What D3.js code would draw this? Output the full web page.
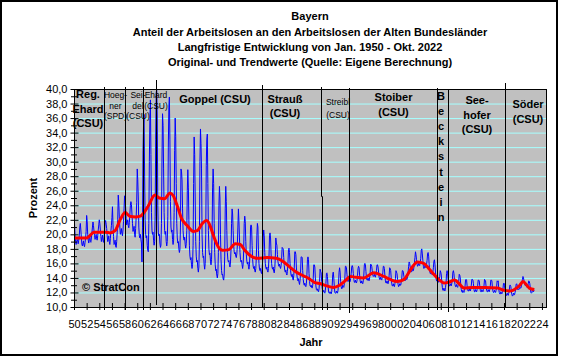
<!DOCTYPE html>
<html><head><meta charset="utf-8">
<script src="https://cdn.jsdelivr.net/npm/d3@7"></script>
<style>
body{margin:0;background:#fff}
svg{display:block}
text{font-family:"Liberation Sans",Arial,sans-serif;fill:#000}
</style>
</head><body>
<svg id="chart" width="562" height="359"></svg>
<script>
// ---------------- DATA ----------------
const titleLines = [
  "Bayern",
  "Anteil der Arbeitslosen an den Arbeitslosen der Alten Bundesländer",
  "Langfristige Entwicklung von Jan. 1950 - Okt. 2022",
  "Original- und Trendwerte (Quelle: Eigene Berechnung)"
];
const yAxisTitle = "Prozent";
const xAxisTitle = "Jahr";
const startYear = 1950;
const yTickValues = [10,12,14,16,18,20,22,24,26,28,30,32,34,36,38,40];
const xTickYears = [1950,1952,1954,1956,1958,1960,1962,1964,1966,1968,1970,1972,1974,1976,1978,1980,1982,1984,1986,1988,1990,1992,1994,1996,1998,2000,2002,2004,2006,2008,2010,2012,2014,2016,2018,2020,2022,2024];
const xTickLabels = ["50","52","54","56","58","60","62","64","66","68","70","72","74","76","78","80","82","84","86","88","90","92","94","96","98","00","02","04","06","08","10","12","14","16","18","20","22","24"];

// Monthly original values (Jan 1950 - Oct 2022), one row per year
const originalValues = [
 23.0,21.5,19.8,19.0,18.6,18.9,19.3,19.0,18.7,19.2,19.8,21.0, // 1950
 21.5,20.6,19.5,18.6,18.4,18.8,19.1,18.5,18.3,18.9,19.5,20.4, // 1951
 22.6,21.8,20.0,19.2,18.8,19.4,19.8,19.0,18.9,19.5,20.2,21.0, // 1952
 21.7,21.2,20.4,19.8,19.3,19.6,20.0,19.4,19.2,19.8,20.6,21.3, // 1953
 22.0,21.5,20.6,19.7,19.0,19.5,19.9,19.2,18.9,19.6,20.5,21.6, // 1954
 21.9,21.4,20.8,19.8,19.0,19.3,19.8,19.0,18.6,19.4,20.4,21.2, // 1955
 22.3,23.8,21.4,19.7,18.6,18.7,19.2,18.4,18.2,19.0,20.3,22.0, // 1956
 25.4,24.3,22.4,21.0,20.0,20.3,20.8,20.1,19.8,20.6,21.8,23.5, // 1957
 25.3,25.0,23.6,22.2,21.3,21.6,22.0,21.2,20.9,21.6,22.7,24.0, // 1958
 24.5,24.1,22.8,21.5,20.4,20.7,21.1,20.0,19.6,20.8,22.4,24.4, // 1959
 29.0,27.5,25.0,21.0,19.8,19.5,20.0,19.3,18.8,16.2,21.0,31.5, // 1960
 35.3,36.5,28.0,22.0,20.0,19.5,19.8,18.5,17.8,17.6,21.5,30.0, // 1961
 36.0,38.5,31.0,23.0,20.5,20.0,20.3,19.2,18.5,19.0,22.5,33.0, // 1962
 39.5,40.0,36.0,24.0,20.2,19.8,20.0,18.8,18.2,18.5,21.5,30.5, // 1963
 36.6,35.0,29.0,23.0,20.5,20.0,20.4,19.0,18.4,19.0,22.5,32.0, // 1964
 37.5,38.9,33.0,24.5,21.0,20.3,20.6,19.3,18.6,19.2,23.0,31.5, // 1965
 36.0,33.5,27.0,21.5,19.5,18.8,19.0,18.0,17.5,17.9,21.0,29.0, // 1966
 28.7,27.5,23.5,20.5,19.4,19.2,19.6,18.6,18.1,18.7,20.5,26.0, // 1967
 28.9,26.5,22.0,18.5,17.0,16.5,16.8,15.8,15.3,15.8,18.5,27.0, // 1968
 33.4,31.0,25.0,19.0,17.0,16.2,16.4,15.3,14.8,15.5,19.0,30.0, // 1969
 34.5,32.5,29.0,20.0,17.5,16.8,17.0,15.8,15.2,16.0,20.0,29.5, // 1970
 33.0,33.8,27.0,20.5,18.0,17.2,17.4,16.3,15.8,16.5,20.0,26.5, // 1971
 29.0,27.0,21.5,17.5,15.8,15.0,15.2,14.4,14.0,14.6,17.5,24.0, // 1972
 26.6,25.0,20.0,16.5,15.0,14.4,14.5,13.9,13.7,14.4,17.0,23.5, // 1973
 26.6,24.5,20.5,17.5,16.5,16.2,16.4,15.8,15.5,16.2,18.0,21.5, // 1974
 23.5,22.8,20.5,18.5,17.6,17.3,17.5,17.0,16.8,17.3,18.5,21.0, // 1975
 23.5,21.8,19.5,17.5,16.5,16.2,16.4,15.8,15.3,15.9,17.8,21.5, // 1976
 22.5,21.8,19.0,17.2,16.3,15.9,16.2,15.6,15.2,15.8,17.5,21.0, // 1977
 21.3,21.0,18.5,16.5,15.6,15.3,15.6,15.0,14.8,15.3,16.8,19.8, // 1978
 21.5,21.0,17.8,16.0,15.2,15.0,15.3,14.8,14.6,15.1,16.5,19.5, // 1979
 20.6,19.8,17.5,16.0,15.4,15.2,15.5,15.0,14.8,15.3,16.8,19.8, // 1980
 20.2,19.5,17.3,16.0,15.4,15.2,15.5,14.9,14.7,15.3,16.8,19.5, // 1981
 18.8,18.5,17.2,16.3,15.8,15.6,15.9,15.5,15.3,15.7,16.6,18.2, // 1982
 18.1,18.0,16.8,15.7,15.0,14.8,15.1,14.6,14.4,14.9,16.0,17.9, // 1983
 18.1,17.5,16.0,15.0,14.4,14.2,14.5,14.0,13.7,14.3,15.5,17.6, // 1984
 17.6,17.2,15.5,14.4,13.8,13.6,13.9,13.4,13.1,13.7,14.8,16.9, // 1985
 16.9,16.8,15.0,13.8,13.2,13.0,13.3,12.9,12.8,13.2,14.5,16.5, // 1986
 16.9,16.5,14.6,13.5,12.9,12.8,13.0,12.7,12.6,13.0,14.0,15.8, // 1987
 15.8,15.5,14.0,12.9,12.4,12.3,12.5,12.2,12.1,12.5,13.5,15.2, // 1988
 14.9,14.7,13.5,12.6,12.2,12.1,12.3,12.0,11.9,12.3,13.2,14.6, // 1989
 14.7,14.2,13.0,12.2,11.9,11.9,12.1,11.9,11.8,12.1,13.0,14.5, // 1990
 14.8,14.0,12.8,12.0,11.9,11.9,12.2,12.0,11.9,12.3,13.3,14.8, // 1991
 15.4,14.8,13.5,12.8,12.5,12.6,13.0,12.8,12.7,13.2,14.0,15.6, // 1992
 15.6,15.4,14.5,13.8,13.5,13.6,13.9,13.6,13.5,13.9,14.6,15.5, // 1993
 15.7,15.5,14.6,13.8,13.4,13.4,13.7,13.4,13.3,13.6,14.3,15.3, // 1994
 15.6,15.4,14.4,13.6,13.3,13.3,13.6,13.3,13.2,13.6,14.4,15.8, // 1995
 16.0,15.8,14.9,14.0,13.7,13.7,14.0,13.7,13.6,14.0,14.7,15.9, // 1996
 15.8,15.6,15.0,14.4,14.2,14.3,14.5,14.2,14.1,14.5,15.0,15.8, // 1997
 15.8,15.5,14.8,14.1,13.8,13.8,14.1,13.8,13.7,14.1,14.7,15.6, // 1998
 15.6,15.3,14.3,13.6,13.3,13.3,13.6,13.3,13.2,13.6,14.3,15.4, // 1999
 15.3,15.0,14.0,13.2,12.9,12.9,13.2,12.9,12.8,13.2,13.9,15.0, // 2000
 14.8,14.6,13.8,13.1,12.8,12.9,13.2,13.0,13.0,13.4,14.0,15.0, // 2001
 15.0,14.8,14.2,13.8,13.6,13.7,14.0,13.8,13.8,14.2,14.8,15.6, // 2002
 16.2,16.0,15.5,15.0,14.8,14.9,15.2,15.0,15.0,15.4,16.0,16.8, // 2003
 17.6,17.2,16.5,15.9,15.6,15.7,16.0,15.8,15.7,16.1,16.7,17.8, // 2004
 18.0,17.3,16.4,15.6,15.3,15.4,15.7,15.5,15.4,15.8,16.4,17.3, // 2005
 17.5,17.0,15.8,15.0,14.6,14.6,14.9,14.6,14.4,14.8,15.4,16.3, // 2006
 16.5,15.9,14.8,14.0,13.6,13.6,13.9,13.6,13.4,13.8,14.2,15.0, // 2007
 14.8,14.4,13.4,12.7,12.3,12.3,12.6,12.3,12.2,12.7,13.3,14.6, // 2008
 15.0,14.7,13.8,13.2,12.9,12.9,13.2,13.0,12.9,13.3,13.8,14.8, // 2009
 15.0,14.6,13.7,13.1,12.8,12.8,13.1,12.8,12.7,13.0,13.5,14.5, // 2010
 14.4,14.0,13.0,12.4,12.1,12.0,12.3,12.1,12.0,12.3,12.8,13.7, // 2011
 13.8,13.7,12.9,12.4,12.2,12.2,12.5,12.3,12.2,12.5,13.0,13.8, // 2012
 13.8,13.7,13.2,12.4,12.1,12.1,12.4,12.2,12.1,12.4,12.9,13.7, // 2013
 13.7,13.6,12.9,12.3,12.1,12.1,12.4,12.2,12.1,12.4,12.9,13.8, // 2014
 13.7,13.6,12.8,12.3,12.1,12.1,12.4,12.2,12.1,12.4,12.9,13.7, // 2015
 13.7,13.6,12.7,12.2,12.0,12.0,12.3,12.1,12.0,12.3,12.8,13.6, // 2016
 13.5,13.6,12.5,12.0,11.8,11.8,12.1,11.9,11.8,12.1,12.5,13.2, // 2017
 13.3,13.0,12.2,11.8,11.6,11.6,11.9,11.7,11.6,11.9,12.3,13.0, // 2018
 13.0,12.8,12.1,11.7,11.5,11.6,11.9,11.7,11.7,12.0,12.4,13.1, // 2019
 13.2,13.0,12.4,12.5,12.4,12.5,12.7,12.6,12.6,12.9,13.3,13.8, // 2020
 14.2,14.0,13.6,13.2,13.0,12.9,13.1,12.9,12.7,12.9,13.2,13.6, // 2021
 13.5,13.2,12.5,12.0,11.9,12.0,12.4,12.2,12.1,12.3            // 2022 (Jan-Okt)
];

// Trend values
const trendTimes  = [1950.0,1952.0,1953.2,1955.0,1955.7,1956.5,1957.3,1958.1,1958.8,1959.8,1960.5,1961.0,1961.8,1962.8,1963.5,1964.3,1965.2,1965.7,1966.3,1967.0,1967.9,1968.9,1969.5,1970.3,1971.0,1971.6,1972.1,1972.8,1973.5,1974.5,1975.5,1976.3,1977.0,1978.0,1979.0,1980.5,1982.0,1983.0,1984.0,1985.0,1986.0,1987.0,1988.0,1989.0,1990.0,1991.0,1992.0,1993.0,1993.7,1994.5,1995.8,1997.4,1999.0,2000.0,2001.1,2002.2,2002.7,2003.5,2004.3,2005.3,2006.2,2006.9,2007.8,2008.5,2009.2,2010.2,2010.8,2011.7,2013.0,2015.0,2017.0,2018.0,2019.0,2019.8,2020.5,2021.0,2021.6,2022.0,2022.8];
const trendValues = [19.5,19.5,20.3,20.3,20.2,20.5,22.0,23.0,22.5,22.4,22.5,22.9,24.0,25.4,25.0,24.9,25.7,25.3,24.0,22.2,21.2,20.4,20.5,21.5,21.9,21.0,19.7,18.3,17.8,17.9,18.7,18.6,17.8,17.0,16.7,16.8,16.7,16.3,15.6,14.9,14.4,14.0,13.4,13.2,12.9,12.7,13.0,13.7,14.2,14.1,14.0,14.7,14.2,13.8,13.5,13.8,14.4,15.5,16.2,16.0,15.2,14.5,13.7,13.3,13.4,13.7,13.3,12.6,12.7,12.7,12.6,12.3,12.2,12.5,13.0,13.5,13.0,12.6,12.4];

// Changes of government (year positions of the vertical lines)
const governmentChanges = [1954.79,1958.07,1960.91,1962.92,1979.68,1989.01,1993.54,2007.45,2009.19,2018.21];

const eraNames = [
  ["Reg.","Ehard","(CSU)"],
  ["Hoeg-","ner","(SPD)"],
  ["Sei-","del","(CSU)"],
  ["Ehard","(CSU)"],
  ["Goppel (CSU)"],
  ["Strauß","(CSU)"],
  ["Streibl","(CSU)"],
  ["Stoiber","(CSU)"],
  ["B","e","c","k","s","t","e","i","n"],
  ["See-","hofer","(CSU)"],
  ["Söder","(CSU)"]
];
const copyrightText = "© StratCon";

// ---------------- LAYOUT ----------------
const plot = {left:74, right:547, top:89, bottom:307};
const svg = d3.select("#chart");

const x = d3.scaleLinear().domain([1950, 2024.8]).range([plot.left, plot.right]);
const y = d3.scaleLinear().domain([10, 40]).range([plot.bottom, plot.top]);

// outer frame
svg.append("rect").attr("x",1).attr("y",1).attr("width",556).attr("height",354)
  .attr("fill","#fff").attr("stroke","#000").attr("stroke-width",2);

// titles
const titleY = [20, 35.5, 50.5, 65.5];
svg.append("g").selectAll("text").data(titleLines).join("text")
  .attr("x",310).attr("y",(d,i)=>titleY[i]).attr("text-anchor","middle")
  .attr("font-size",11).attr("font-weight","bold").text(d=>d);

// plot background
svg.append("rect").attr("x",plot.left).attr("y",plot.top)
  .attr("width",plot.right-plot.left).attr("height",plot.bottom-plot.top)
  .attr("fill","#c0c0c0");

// grid lines
svg.append("g").selectAll("line").data(yTickValues.filter(v=>v>10&&v<40)).join("line")
  .attr("x1",plot.left).attr("x2",plot.right)
  .attr("y1",d=>y(d)+0.5).attr("y2",d=>y(d)+0.5)
  .attr("stroke","#a6ffff").attr("stroke-width",1);

// clip
svg.append("clipPath").attr("id","clip").append("rect")
  .attr("x",plot.left).attr("y",plot.top-1).attr("width",plot.right-plot.left).attr("height",plot.bottom-plot.top+1);

// original series
const monthly = originalValues.map((v,i)=>({t:startYear+i/12, v}));
const line = d3.line().x(d=>x(d.t)).y(d=>y(d.v));
svg.append("path").datum(monthly).attr("d",line)
  .attr("fill","none").attr("stroke","#0000ff").attr("stroke-width",1)
  .attr("clip-path","url(#clip)");

// trend
const trend = trendTimes.map((t,i)=>({t, v:trendValues[i]}));
svg.append("path").datum(trend)
  .attr("d",d3.line().x(d=>x(d.t)).y(d=>y(d.v)).curve(d3.curveMonotoneX))
  .attr("fill","none").attr("stroke","#ff0000").attr("stroke-width",3);

// plot border
svg.append("rect").attr("x",plot.left+0.5).attr("y",plot.top+0.5)
  .attr("width",plot.right-plot.left-1).attr("height",plot.bottom-plot.top)
  .attr("fill","none").attr("stroke","#000").attr("stroke-width",1);

// Y axis
const yAxis = d3.axisLeft(y).tickValues(yTickValues).tickSize(4).tickPadding(4)
  .tickFormat(d=>d3.format(".1f")(d).replace(".",","));
const gy = svg.append("g").attr("transform",`translate(${plot.left+0.5},0)`).call(yAxis);
gy.select(".domain").remove();
gy.selectAll(".tick line").attr("x1",4).attr("x2",-4).attr("stroke","#000");
gy.selectAll(".tick text").attr("font-size",11).attr("font-family",'"Liberation Sans",Arial,sans-serif').attr("fill","#000").attr("x",-7);
// minor ticks
svg.append("g").selectAll("line").data(d3.range(11,40,2)).join("line")
  .attr("x1",plot.left-3).attr("x2",plot.left+3)
  .attr("y1",d=>y(d)+0.5).attr("y2",d=>y(d)+0.5).attr("stroke","#000");

// X axis
const xAxis = d3.axisBottom(x).tickValues(xTickYears).tickSize(3).tickPadding(10)
  .tickFormat((d,i)=>xTickLabels[i]);
const gx = svg.append("g").attr("transform",`translate(0,${plot.bottom})`).call(xAxis);
gx.select(".domain").remove();
gx.selectAll(".tick line").attr("y1",-4).attr("y2",3).attr("stroke","#000");
gx.selectAll(".tick text").attr("font-size",11).attr("font-family",'"Liberation Sans",Arial,sans-serif').attr("fill","#000");

// axis titles
svg.append("text").attr("transform","translate(37,198) rotate(-90)").attr("text-anchor","middle")
  .attr("font-size",11).attr("font-weight","bold").text(yAxisTitle);
svg.append("text").attr("x",311).attr("y",346).attr("text-anchor","middle")
  .attr("font-size",11).attr("font-weight","bold").text(xAxisTitle);

// government change lines (pixel overhang above/below plot)
const lineOverhang = [[-2,3],[-2,3],[-2,3],[-9,-2],[-4,0],[-2,3],[-1,6],[-1,3],[1,5],[-6,0]];
governmentChanges.forEach((yr,i)=>{
  const px = Math.round(x(yr))+0.5;
  const [a,b] = lineOverhang[i];
  if (i===5) {
    const mid = y(25.2);
    svg.append("path").attr("d",`M${px},${plot.top+a}V${mid}H${px+1}V${plot.bottom+b}`)
      .attr("fill","none").attr("stroke","#000").attr("stroke-width",1);
  } else {
    svg.append("line").attr("x1",px).attr("x2",px)
      .attr("y1",plot.top+a).attr("y2",plot.bottom+b)
      .attr("stroke","#000").attr("stroke-width",1);
  }
});

// era labels
const eraLayout = [
  {cx:88, y0:98, dy:14.5, size:11, bold:true},
  {cx:115.5, y0:98, dy:10.5, size:8.5, bold:false},
  {cx:138, y0:98, dy:10.5, size:8.5, bold:false},
  {cx:156, y0:98, dy:10.5, size:8.5, bold:false},
  {cx:215, y0:103, dy:14, size:11, bold:true},
  {cx:285, y0:103, dy:14, size:11, bold:true},
  {cx:338, y0:105, dy:13, size:8.5, bold:false},
  {cx:393.5, y0:101, dy:15, size:11, bold:true},
  {cx:441, y0:100, dy:15.1, size:11, bold:true},
  {cx:477, y0:104, dy:14.5, size:11, bold:true},
  {cx:528, y0:108, dy:15, size:11, bold:true}
];
eraNames.forEach((lines,i)=>{
  const L = eraLayout[i];
  svg.append("g").selectAll("text").data(lines).join("text")
    .attr("x",L.cx).attr("y",(d,j)=>L.y0+j*L.dy).attr("text-anchor","middle")
    .attr("font-size",L.size).attr("font-weight",L.bold?"bold":"normal").text(d=>d);
});

svg.append("text").attr("x",82).attr("y",291).attr("font-size",11).attr("font-weight","bold").text(copyrightText);
</script>
</body></html>
